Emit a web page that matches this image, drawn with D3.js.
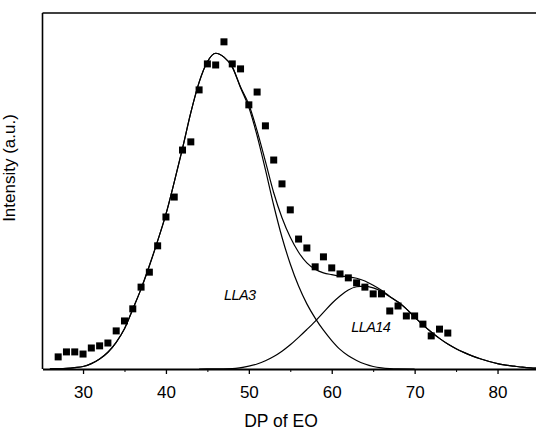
<!DOCTYPE html>
<html>
<head>
<meta charset="utf-8">
<script src="https://cdn.jsdelivr.net/npm/d3@7"></script>
<style>
  html, body { margin: 0; padding: 0; background: #fff; }
  svg { display: block; }
  text { font-family: "Liberation Sans", Arial, sans-serif; fill: #000; }
</style>
</head>
<body>
<div id="chart"></div>
<script>
// ---- data ----
const pointDp = [27,28,29,30,31,32,33,34,35,36,37,38,39,40,41,42,43,44,45,46,47,48,49,50,51,52,53,54,55,56,57,58,59,60,61,62,63,64,65,66,67,68,69,70,71,72,73,74];
const pointIntensity = [3.4,4.8,4.8,4.2,5.9,6.5,7.3,10.7,13.5,16.9,23.0,27.2,34.6,42.7,48.3,61.5,63.8,78.4,85.7,85.4,91.9,85.7,84.3,74.2,77.8,68.3,58.7,52.0,44.7,36.5,34.0,28.7,31.5,28.4,26.7,25.6,24.2,23.0,21.1,21.1,16.3,17.7,14.9,14.9,12.6,9.3,11.2,10.1];

const lla3Dp = [26,27,28,29,30,31,32,33,34,35,36,37,38,39,40,41,42,43,44,45,46,47,48,49,50,51,52,53,54,55,56,57,58,59,60,61,62,63,64,65,66,67,68,70];
const lla3Val = [0.05,0.1,0.2,0.4,0.7,1.5,2.8,4.7,7.5,11.3,16.8,22.5,29,36,43.5,52.5,62,72,80.5,86.3,88.7,87.6,84.8,79,73.5,65.5,56,46,37,29.5,23.3,18.3,14.3,10.9,8,5.5,3.7,2.4,1.4,0.7,0.3,0.1,0.02,0];

const lla14Dp = [44,46,48,50,51,52,53,54,55,56,57,58,59,60,61,62,63,64,65,66,67,68,69,70,71,72,73,74,75,76,77,78,79,80,81,82,83,84,85];
const lla14Val = [0,0.03,0.1,0.8,1.4,2.3,3.5,5.0,6.8,8.9,11.1,13.4,15.9,18.4,20.5,22.2,23.1,23.3,22.8,21.8,20.3,18.8,16.9,14.6,12.4,10.4,8.6,7.0,5.7,4.6,3.6,2.8,2.1,1.5,1.1,0.8,0.5,0.3,0.2];

const sumDp = [26,27,28,29,30,31,32,33,34,35,36,37,38,39,40,41,42,43,44,45,46,47,48,49,50,51,52,53,54,55,56,57,58,59,60,61,62,63,64,65,66,67,68,69,70,71,72,73,74,75,76,77,78,79,80,81,82,83,84,85];
const sumVal = [0.05,0.1,0.2,0.4,0.7,1.5,2.8,4.7,7.5,11.3,16.8,22.5,29,36,43.5,52.5,62,72,80.5,86.3,88.7,87.6,84.9,79.2,74.3,66.9,58.3,49.5,42.5,37,32.8,29.8,28,27,26.5,26.1,25.9,25.5,24.7,23.5,22.1,20.4,18.8,16.9,14.6,12.4,10.4,8.6,7.0,5.7,4.6,3.6,2.8,2.1,1.5,1.1,0.8,0.5,0.3,0.2];

const xTicks = [30,40,50,60,70,80];
const xMinorTicks = [35,45,55,65,75];
const peakLabels = ["LLA3","LLA14"];
const peakLabelPos = [[48.9,19.4],[64.7,10.5]];
const xTitle = "DP of EO";
const yTitle = "Intensity (a.u.)";

// ---- drawing ----
const W = 536, H = 430;
const svg = d3.select("#chart").append("svg").attr("width", W).attr("height", H);
svg.append("rect").attr("width", W).attr("height", H).attr("fill", "#fff");

const pLeft = 42.5, pRight = 536, pTop = 13, pBottom = 369;
const x = d3.scaleLinear().domain([25.11, 84.64]).range([pLeft, pRight]);
const y = d3.scaleLinear().domain([0, 100]).range([pBottom, pTop]);

svg.append("clipPath").attr("id","clip").append("rect")
  .attr("x", pLeft).attr("y", pTop - 5).attr("width", pRight - pLeft).attr("height", pBottom - pTop + 5);

const line = d3.line().x(d => x(d[0])).y(d => y(d[1])).curve(d3.curveMonotoneX);
const g = svg.append("g").attr("clip-path","url(#clip)");
[[lla3Dp, lla3Val],[lla14Dp, lla14Val],[sumDp, sumVal]].forEach(([xs, ys]) => {
  g.append("path").datum(xs.map((d,i) => [d, ys[i]]))
    .attr("d", line).attr("fill","none").attr("stroke","#000").attr("stroke-width",1.2);
});

// points
const s = 7;
svg.append("g").selectAll("rect").data(pointDp.map((d,i)=>[d, pointIntensity[i]])).join("rect")
  .attr("x", d => x(d[0]) - s/2).attr("y", d => y(d[1]) - s/2)
  .attr("width", s).attr("height", s).attr("fill", "#000");

// axes
const xAxis = d3.axisBottom(x).tickValues(xTicks).tickSize(5).tickSizeOuter(0).tickPadding(12).tickFormat(d3.format("d"));
const ax = svg.append("g").attr("transform", `translate(0,${pBottom})`).call(xAxis);
ax.select(".domain").attr("stroke-width", 2);
ax.selectAll(".tick line").attr("stroke-width", 1.3);
ax.selectAll("text").style("font-size","17px").style("font-family","'Liberation Sans', Arial, sans-serif");
svg.append("g").attr("transform", `translate(0,${pBottom})`)
  .call(d3.axisBottom(x).tickValues(xMinorTicks).tickSize(3).tickSizeOuter(0).tickFormat(""))
  .call(a => a.select(".domain").remove());

// left axis and top frame
svg.append("line").attr("x1", pLeft).attr("x2", pLeft).attr("y1", pTop).attr("y2", pBottom)
  .attr("stroke","#000").attr("stroke-width",1.6);
svg.append("line").attr("x1", pLeft).attr("x2", pRight).attr("y1", pTop).attr("y2", pTop)
  .attr("stroke","#000").attr("stroke-width",1.6);

// titles
svg.append("text").attr("x", 281).attr("y", 427).attr("text-anchor","middle")
  .style("font-size","17.5px").text(xTitle);
svg.append("text").attr("transform","translate(14.5,168) rotate(-90)").attr("text-anchor","middle")
  .style("font-size","17px").text(yTitle);

// peak labels
svg.append("g").selectAll("text").data(peakLabels).join("text")
  .attr("x", (d,i) => x(peakLabelPos[i][0])).attr("y", (d,i) => y(peakLabelPos[i][1]))
  .attr("text-anchor","middle")
  .style("font-size","14.5px").style("font-style","italic").style("letter-spacing","-0.6px")
  .text(d => d);
</script>
</body>
</html>
